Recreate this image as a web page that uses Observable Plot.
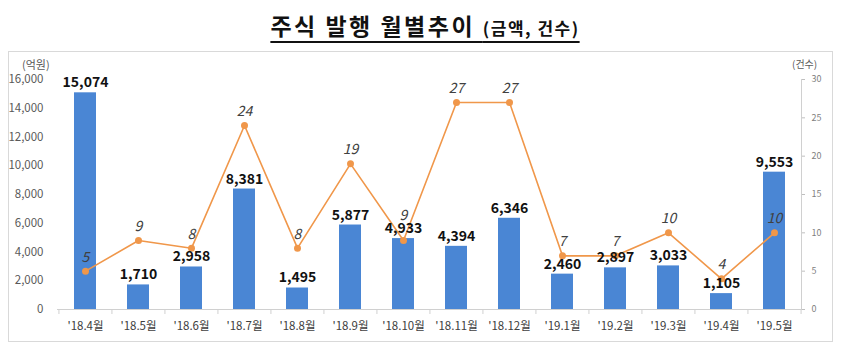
<!DOCTYPE html>
<html>
<head>
<meta charset="utf-8">
<script src="https://cdn.jsdelivr.net/npm/d3@7"></script>
<script src="https://cdn.jsdelivr.net/npm/@observablehq/plot@0.6"></script>
<style>
  body { margin: 0; background: #fff; font-family: "Noto Sans CJK KR", "Noto Sans", sans-serif; }
  #wrap { position: relative; width: 850px; height: 362px; overflow: hidden; }
  #title { position: absolute; top: 10px; left: 0; width: 850px; text-align: center; line-height: 30px; }
  #title span.t { font-weight: 700; color: #111; text-decoration: underline; text-decoration-thickness: 2px; text-underline-offset: 6px; }
  #title .main { font-size: 23px; letter-spacing: 2.5px; }
  #title .sub { font-size: 17px; letter-spacing: 1.5px; }
  #frame { position: absolute; left: 8px; top: 51px; width: 823px; height: 289px; border: 1px solid #d9d9d9; pointer-events: none; }
  #chart { position: absolute; left: 0; top: 47px; }
  #chart svg { overflow: visible; }
  .unit { position: absolute; font-size: 11px; color: #595959; }
</style>
</head>
<body>
<div id="wrap">
  <div id="title"><span class="t"><span class="main">주식 발행 월별추이 </span><span class="sub">(금액, 건수)</span></span></div>
  <div id="frame"></div>
  <div class="unit" style="left:22px; top:56px;">(억원)</div>
  <div class="unit" style="left:792px; top:56px; font-size:10px;">(건수)</div>
  <div id="chart"></div>
</div>
<script>
const months = ["'18.4월","'18.5월","'18.6월","'18.7월","'18.8월","'18.9월","'18.10월","'18.11월","'18.12월","'19.1월","'19.2월","'19.3월","'19.4월","'19.5월"];
const amounts = [15074, 1710, 2958, 8381, 1495, 5877, 4933, 4394, 6346, 2460, 2897, 3033, 1105, 9553];
const counts = [5, 9, 8, 24, 8, 19, 9, 27, 27, 7, 7, 10, 4, 10];
const leftTicks = [0, 2000, 4000, 6000, 8000, 10000, 12000, 14000, 16000];
const rightTicks = [0, 5, 10, 15, 20, 25, 30];

// count labels lifted higher to clear the bar label (as in the reference)
const raisedCountLabels = ["'18.10월"];

const leftMax = 16000, rightMax = 30;
const K = leftMax / rightMax;
const data = months.map((m, i) => ({month: m, amount: amounts[i], count: counts[i]}));

const width = 850, height = 315;
const mL = 57, mR = 49;
const step = (width - mL - mR) / months.length;

const font = "'Noto Sans CJK KR', 'Noto Sans', sans-serif";
const chart = Plot.plot({
  width, height,
  marginTop: 32, marginBottom: 53, marginLeft: mL, marginRight: mR,
  style: {fontFamily: font, background: "transparent"},
  x: {domain: months, paddingInner: 0.585, paddingOuter: 0.2925, label: null},
  y: {domain: [0, leftMax], label: null},
  marks: [
    Plot.axisY({ticks: leftTicks, tickFormat: d3.format(","), tickSize: 0, tickPadding: 14, fontSize: 11.5, color: "#595959", label: null}),
    Plot.axisY({anchor: "right", ticks: rightTicks.map(v => v * K), tickFormat: d => String(Math.round(d / K)), tickSize: 3, tickPadding: 7, fontSize: 9, color: "#7f7f7f", stroke: "#bfbfbf", label: null}),
    Plot.frame({anchor: "right", stroke: "#d0d0d0"}),
    Plot.axisX({tickSize: 0, tickPadding: 12, fontSize: 11.5, color: "#404040", label: null}),
    Plot.ruleY([0], {stroke: "#d0d0d0"}),
    Plot.ruleX(months, {x: d => d, dx: -step / 2, y1: 0, y2: -leftMax * 5 / 230, stroke: "#d0d0d0"}),
    Plot.ruleX([months[months.length - 1]], {x: d => d, dx: step / 2, y1: 0, y2: -leftMax * 5 / 230, stroke: "#d0d0d0"}),
    Plot.barY(data, {x: "month", y: "amount", fill: "#4a86d4"}),
    Plot.line(data, {x: "month", y: d => d.count * K, stroke: "#f0974a", strokeWidth: 1.6}),
    Plot.dot(data, {x: "month", y: d => d.count * K, r: 3.5, fill: "#f0974a", stroke: "none"}),
    Plot.text(data, {x: "month", y: "amount", text: d => d3.format(",")(d.amount), dy: -10, fontSize: 14, fontWeight: "bold", fill: "#111"}),
    Plot.text(data.filter(d => !raisedCountLabels.includes(d.month)), {x: "month", y: d => d.count * K, text: d => String(d.count), dy: -14, fontSize: 14, fontStyle: "italic", fill: "#404040"}),
    Plot.text(data.filter(d => raisedCountLabels.includes(d.month)), {x: "month", y: d => d.count * K, text: d => String(d.count), dy: -25, fontSize: 14, fontStyle: "italic", fill: "#404040"})
  ]
});
document.getElementById("chart").appendChild(chart);
</script>
</body>
</html>
